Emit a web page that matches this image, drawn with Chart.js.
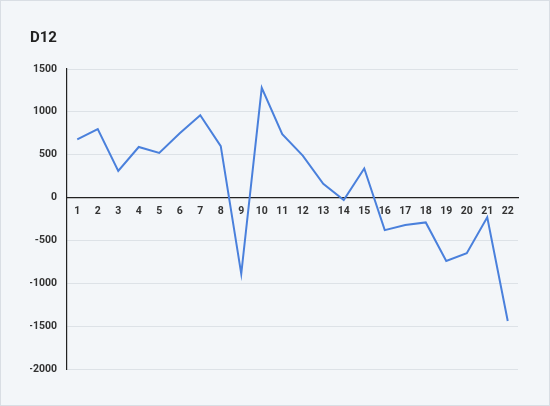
<!DOCTYPE html>
<html>
<head>
<meta charset="utf-8">
<script src="https://cdn.jsdelivr.net/npm/chart.js@4"></script>
<style>
  html, body { margin: 0; padding: 0; background: #f3f6f9; }
  #wrap { width: 550px; height: 406px; box-sizing: border-box; border: 1px solid #d9dee4; background: #f3f6f9; }
  canvas { display: block; }
</style>
</head>
<body>
<div id="wrap"><canvas id="lineChart" width="548" height="404"></canvas></div>
<script>
const categories = ['1', '2', '3', '4', '5', '6', '7', '8', '9', '10', '11', '12', '13', '14', '15', '16', '17', '18', '19', '20', '21', '22'];
const d12Values = [680, 800, 310, 590, 520, 750, 960, 600, -890, 1280, 740, 490, 160, -30, 340, -380, -320, -290, -740, -650, -230, -1440];
const yTicks = [1500, 1000, 500, 0, -500, -1000, -1500, -2000];

const ctx = document.getElementById('lineChart').getContext('2d');

new Chart(ctx, {
  type: 'line',
  data: {
    labels: categories,
    datasets: [{
      label: 'D12',
      data: d12Values,
      borderColor: '#4a80dc',
      borderWidth: 2,
      pointRadius: 0,
      tension: 0,
      fill: false
    }]
  },
  options: {
    responsive: false,
    animation: false,
    layout: { padding: { left: 29, right: 31, top: 0, bottom: 36 } },
    plugins: {
      legend: { display: false },
      tooltip: { enabled: false },
      title: {
        display: true,
        text: 'D12',
        align: 'start',
        color: '#222',
        font: { family: 'Roboto', size: 15, weight: 'bold' },
        padding: { top: 28, bottom: 22 }
      }
    },
    scales: {
      x: {
        position: { y: 0 },
        offset: true,
        grid: { display: false, drawTicks: false },
        border: { display: true, color: '#222', width: 1.2 },
        ticks: {
          color: '#333',
          padding: 8,
          maxRotation: 0,
          autoSkip: false,
          font: { family: 'Roboto', size: 10.5, weight: 'bold' }
        }
      },
      y: {
        min: -2000,
        max: 1500,
        afterBuildTicks: (scale) => { scale.ticks = yTicks.map(v => ({ value: v })); },
        afterFit: (scale) => { scale.width = 37; },
        grid: { color: '#dde2e7', drawTicks: false },
        border: { display: true, color: '#222', width: 1.2 },
        ticks: {
          color: '#333',
          padding: 10,
          callback: (v) => String(v),
          font: { family: 'Roboto', size: 10.5, weight: 'bold' }
        }
      }
    }
  }
});
</script>
</body>
</html>
